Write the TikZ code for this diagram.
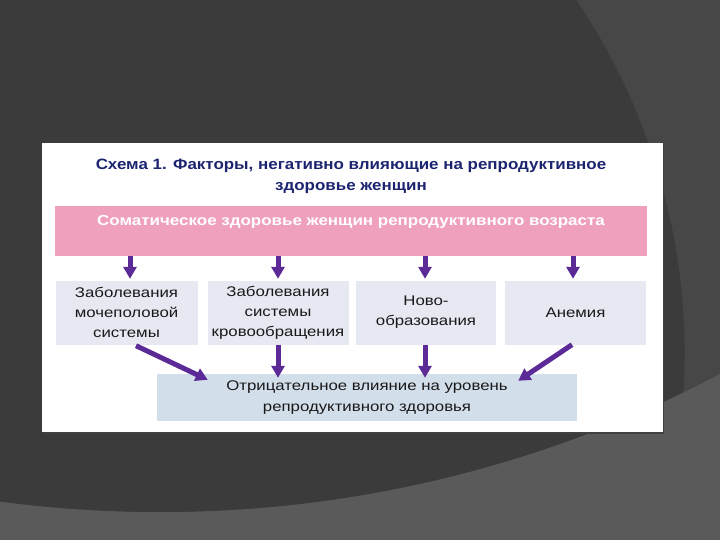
\documentclass[tikz,border=0pt]{standalone}
\usepackage{fontspec}
\setmainfont{Liberation Sans}
\newfontfamily\titlefont[FakeStretch=1.13]{Liberation Sans}
\newfontfamily\somafont[FakeStretch=1.17]{Liberation Sans}
\newfontfamily\boxfont[FakeStretch=1.2]{Liberation Sans}
\usetikzlibrary{arrows.meta,calc}
\definecolor{bgdark}{HTML}{3B3B3B}
\definecolor{bgmid}{HTML}{474747}
\definecolor{bglight}{HTML}{5A5A5A}
\definecolor{navy}{HTML}{1C2470}
\definecolor{pinkbar}{HTML}{EFA0BE}
\definecolor{lavbox}{HTML}{E6E8F2}
\definecolor{bluebox}{HTML}{D3DEEB}
\definecolor{arrowpurple}{HTML}{5B2A96}
\begin{document}
\begin{tikzpicture}[x=1pt,y=-1pt,
  factor/.style={fill=lavbox, draw=none, minimum height=64pt, align=center,
    font=\boxfont\fontsize{14}{20}\selectfont, text=black!90, inner sep=0pt},
  result/.style={fill=bluebox, draw=none, minimum width=420pt, minimum height=47pt,
    align=center, font=\boxfont\fontsize{14}{21}\selectfont, text=black!90, inner sep=0pt},
  somabar/.style={fill=pinkbar, draw=none, minimum width=592pt, minimum height=50pt,
    align=center, font=\somafont\bfseries\fontsize{14.5}{21}\selectfont, text=white, inner sep=0pt},
  fatarrow/.style={draw=arrowpurple, line width=5pt,
    -{Triangle[width=13pt,length=12pt]}, fill=arrowpurple}
]
\useasboundingbox (0,0) rectangle (720,540);
% slide background
\fill[bglight] (0,0) rectangle (720,540);
\begin{scope}
  \clip (0,0) rectangle (720,540);
  \fill[bgmid] (160,-690) circle (1202pt);
  \clip (160,-690) circle (1202pt);
  \fill[bgdark] (50.6,354.5) circle (634pt);
\end{scope}
% white panel
\fill[black!75] (43,144) rectangle (664,434);
\fill[white] (42,143) rectangle (663,432);

\node[font=\titlefont\bfseries\fontsize{15}{21}\selectfont, text=navy, align=center]
  (title) at (351,176) {Схема 1. Факторы, негативно влияющие на репродуктивное\\здоровье женщин};

\node[somabar] (soma) at (351,231) {Соматическое здоровье женщин репродуктивного возраста\\\mbox{}};

\node[factor, minimum width=142pt] (b1) at (126.5,312.5) {Заболевания\\мочеполовой\\системы};
\node[factor, minimum width=141pt] (b2) at (278,312.5) {Заболевания\\системы\\кровообращения};
\node[factor, minimum width=140pt] (b3) at (426,312.5) {Ново-\\образования};
\node[factor, minimum width=141pt] (b4) at (575.5,312.5) {Анемия};

\node[result] (res) at (367,397.5) {Отрицательное влияние на уровень\\репродуктивного здоровья};

\foreach \b/\dx in {b1/3.5,b2/0,b3/-1,b4/-2.5}{
  \draw[fatarrow] ($(soma.south -| \b.north)+(\dx,0)$) -- ($(\b.north)+(\dx,-1.5)$);
}
\draw[fatarrow] ($(b1.south)+(9.5,1)$) -- ($(res.north west)+(51,6)$);
\draw[fatarrow] (b2.south) -- ($(res.north -| b2.south)+(0,4)$);
\draw[fatarrow] ($(b3.south)+(-1,0)$) -- ($(res.north -| b3.south)+(-1,4)$);
\draw[fatarrow] ($(b4.south)+(-3.5,0)$) -- ($(res.north east)+(-59,7)$);
\end{tikzpicture}
\end{document}
